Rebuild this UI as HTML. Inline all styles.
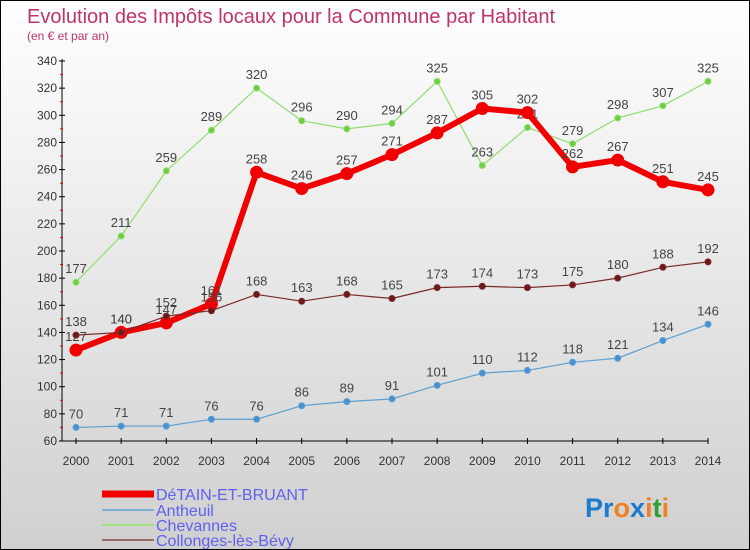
<!DOCTYPE html>
<html><head><meta charset="utf-8"><style>
body{margin:0}
#c{width:748px;height:548px;border:1px solid #000;background:linear-gradient(#fff,#d0d0d0);position:relative;font-family:"Liberation Sans","DejaVu Sans",sans-serif}
</style></head><body>
<div id="c">
<svg id="s" width="748" height="548" style="position:absolute;left:0;top:0">
<text x="26" y="22" font-size="20" fill="#c0336a">Evolution des Impôts locaux pour la Commune par Habitant</text>
<text x="26" y="39" font-size="12" fill="#c0336a">(en € et par an)</text>
<g id="axes"></g><g id="series"></g><g id="legend"></g>
<text x="584" y="516" font-size="27" font-weight="bold" fill="#1a7bd0">Pr<tspan fill="#f08020">o</tspan><tspan fill="#1a7bd0">x</tspan><tspan fill="#f08020">i</tspan><tspan fill="#30a030">t</tspan><tspan fill="#f08020">i</tspan></text>
</svg></div>
<script>
const years=[2000,2001,2002,2003,2004,2005,2006,2007,2008,2009,2010,2011,2012,2013,2014];
const yTicks=[60,80,100,120,140,160,180,200,220,240,260,280,300,320,340];
const detain=[127,140,147,161,258,246,257,271,287,305,302,262,267,251,245];
const antheuil=[70,71,71,76,76,86,89,91,101,110,112,118,121,134,146];
const chevannes=[177,211,259,289,320,296,290,294,325,263,291,279,298,307,325];
const collonges=[138,140,152,156,168,163,168,165,173,174,173,175,180,188,192];
const NS="http://www.w3.org/2000/svg";
const X=i=>75+i*(632/14), Y=v=>440-(v-60)*380/280;
function mk(t,a,p){const e=document.createElementNS(NS,t);for(const k in a)e.setAttribute(k,a[k]);p.appendChild(e);return e;}
const ax=document.getElementById('axes');
let l=mk('line',{x1:61,y1:58,x2:61,y2:440,stroke:'#000'},ax);


l=mk('line',{x1:61,y1:440,x2:707,y2:440,stroke:'#000'},ax);


yTicks.forEach(v=>{mk('line',{x1:58,x2:64,y1:Y(v),y2:Y(v),stroke:'#000'},ax);
 if(v<340)mk('line',{x1:59,x2:62,y1:Y(v+10),y2:Y(v+10),stroke:'#e00'},ax);
 const t=mk('text',{x:56,y:Y(v)+4,'font-size':12,'text-anchor':'end',fill:'#333'},ax);t.textContent=v;
 
 });
years.forEach((yr,i)=>{mk('line',{x1:X(i),x2:X(i),y1:437,y2:443,stroke:'#000'},ax);
 const t=mk('text',{x:X(i),y:464,'font-size':12,'text-anchor':'middle',fill:'#333'},ax);t.textContent=yr;
 
 });
const sg=document.getElementById('series');
function draw(d,col,w,r,name,fill){const g=mk('g',{},sg);
 
 
 mk('polyline',{points:d.map((v,i)=>X(i)+','+Y(v)).join(' '),fill:'none',stroke:col,'stroke-width':w,'stroke-linejoin':'round'},g);
 d.forEach((v,i)=>{const c=mk('circle',{cx:X(i),cy:Y(v),r:r,fill:fill,stroke:col},g);
  
  
  const t=mk('text',{x:X(i),y:Y(v)-9,'font-size':13,'text-anchor':'middle',fill:'#444'},g);t.textContent=v;});}
draw(antheuil,'#5a9fd0',1.2,3,'series-antheuil','#4a90d0');
draw(chevannes,'#90dc70',1.2,3,'series-chevannes','#70cc40');
draw(detain,'#f00000',6,6,'series-detain','#f00000');
draw(collonges,'#7a2a2a',1.2,3,'series-collonges','#6a1a1a');
const lg=document.getElementById('legend');
[['DéTAIN-ET-BRUANT','#f00000',7,492],['Antheuil','#7aaed0',2,508],['Chevannes','#a0e080',2,523],['Collonges-lès-Bévy','#9a6a6a',2,538]].forEach(e=>{
 const g=mk('g',{},lg);
 
 
 mk('line',{x1:101,x2:153,y1:e[3]+1,y2:e[3]+1,stroke:e[1],'stroke-width':e[2]},g);
 const t=mk('text',{x:155,y:e[3]+7,'font-size':16,fill:'#6060f0'},g);t.textContent=e[0];});
</script></body></html>
